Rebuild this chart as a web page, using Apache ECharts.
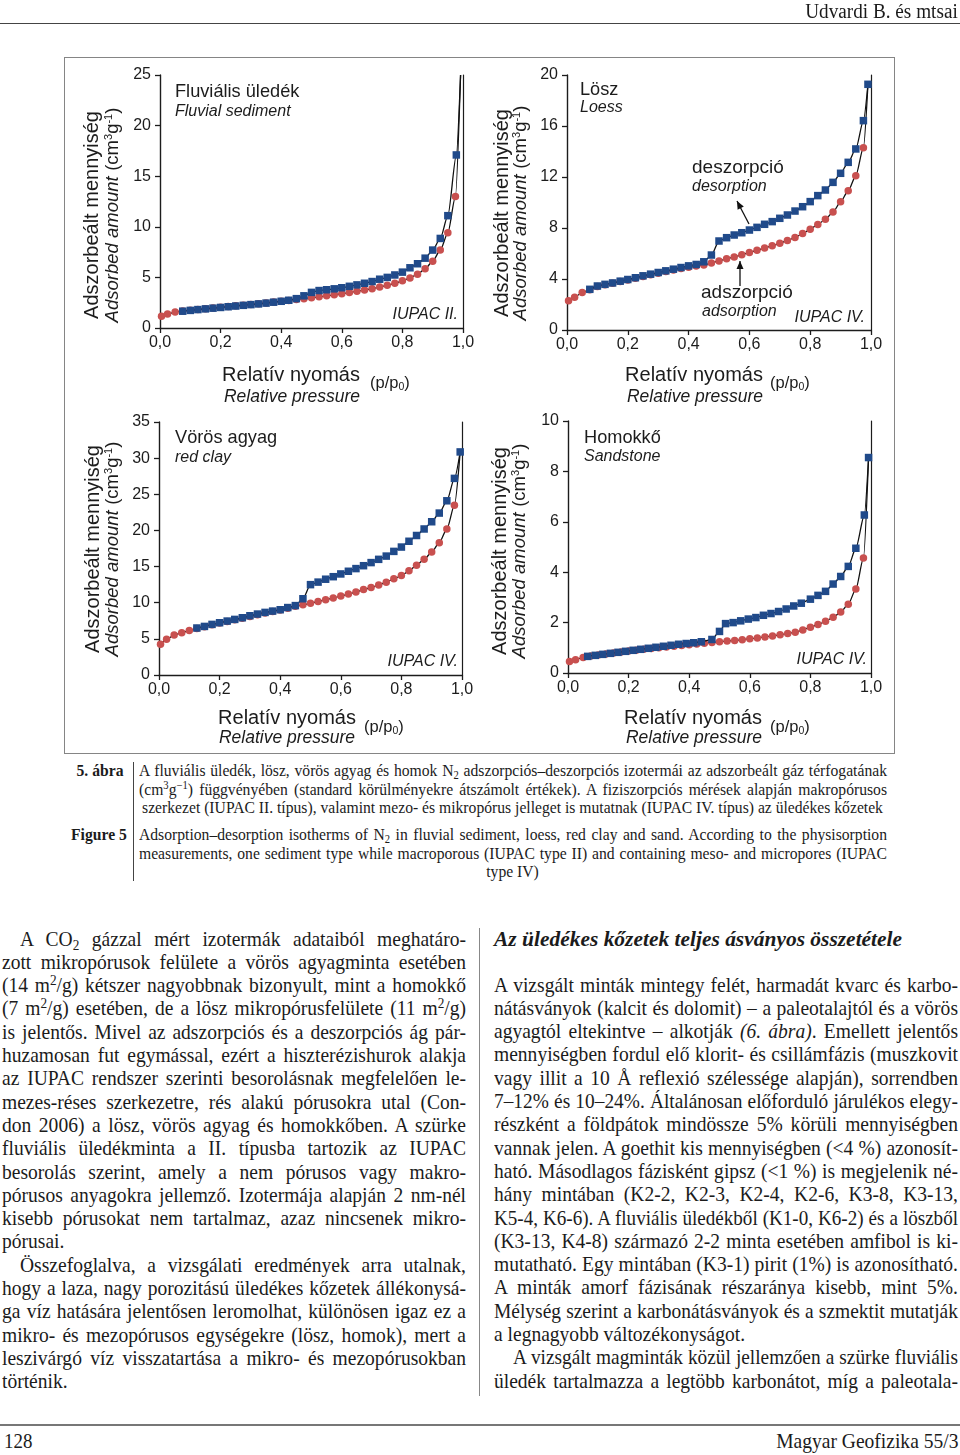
<!DOCTYPE html>
<html><head><meta charset="utf-8">
<script src="https://cdn.jsdelivr.net/npm/echarts/dist/echarts.min.js"></script>
<style>
html,body{margin:0;padding:0;background:#fff;}
#page{position:relative;width:960px;height:1455px;overflow:hidden;font-family:"Liberation Serif","Times New Roman",serif;color:#1b1b1b;}
#chart{position:absolute;left:0;top:0;width:960px;height:760px;}
#figbox{position:absolute;left:64px;top:57px;width:829px;height:695px;border:1.5px solid #858585;}
.ln{position:absolute;transform-origin:0 50%;overflow:visible;}
sub{font-size:0.68em;vertical-align:-0.28em;line-height:0;}
sup{font-size:0.68em;vertical-align:0.5em;line-height:0;}
.rule{position:absolute;background:#555;}
</style></head>
<body><div id="page">
<div id="figbox"></div>
<div id="chart"></div>
</div>
<script>
// ---------------- DATA ----------------
const xTicks = ['0,0','0,2','0,4','0,6','0,8','1,0'];
// Fluvial sediment
const fluvAdsP = [0.005,0.025,0.05,0.075,0.1,0.125,0.15,0.175,0.2,0.225,0.25,0.275,0.3,0.325,0.35,0.375,0.4,0.425,0.45,0.475,0.5,0.525,0.55,0.575,0.6,0.625,0.65,0.675,0.7,0.725,0.75,0.775,0.8,0.825,0.85,0.875,0.9,0.925,0.95,0.975];
const fluvAdsV = [1.15,1.38,1.58,1.68,1.76,1.84,1.91,1.98,2.05,2.12,2.19,2.26,2.33,2.40,2.48,2.56,2.64,2.72,2.81,2.90,2.99,3.08,3.18,3.28,3.39,3.50,3.62,3.75,3.89,4.05,4.22,4.42,4.66,4.95,5.32,5.85,6.6,7.7,9.4,13.0];
const fluvDesP = [0.075,0.1,0.125,0.15,0.175,0.2,0.225,0.25,0.275,0.3,0.325,0.35,0.375,0.4,0.425,0.45,0.475,0.5,0.525,0.55,0.575,0.6,0.625,0.65,0.675,0.7,0.725,0.75,0.775,0.8,0.825,0.85,0.875,0.9,0.925,0.95,0.978];
const fluvDesV = [1.66,1.74,1.82,1.89,1.96,2.03,2.10,2.17,2.24,2.31,2.38,2.46,2.55,2.64,2.74,2.90,3.18,3.52,3.70,3.78,3.87,3.98,4.12,4.26,4.42,4.59,4.82,5.00,5.24,5.52,5.95,6.35,6.90,7.70,8.85,11.1,17.1];
const fluvCurveEnd = [0.992, 25];
// Loess
const loessAdsP = [0.005,0.025,0.05,0.075,0.1,0.125,0.15,0.175,0.2,0.225,0.25,0.275,0.3,0.325,0.35,0.375,0.4,0.425,0.45,0.475,0.5,0.525,0.55,0.575,0.6,0.625,0.65,0.675,0.7,0.725,0.75,0.775,0.8,0.825,0.85,0.875,0.9,0.925,0.95,0.975];
const loessAdsV = [2.3,2.56,2.95,3.15,3.42,3.55,3.66,3.8,3.93,4.06,4.2,4.33,4.46,4.58,4.7,4.82,4.93,5.02,5.1,5.25,5.42,5.58,5.73,5.9,6.07,6.25,6.43,6.6,6.8,7.02,7.25,7.56,7.9,8.28,8.68,9.25,10.05,10.92,12.1,14.3];
const loessDesP = [0.075,0.1,0.125,0.15,0.175,0.2,0.225,0.25,0.275,0.3,0.325,0.35,0.375,0.4,0.425,0.45,0.475,0.5,0.525,0.55,0.575,0.6,0.625,0.65,0.675,0.7,0.725,0.75,0.775,0.8,0.825,0.85,0.875,0.9,0.925,0.95,0.975,0.99];
const loessDesV = [3.19,3.45,3.58,3.69,3.83,3.96,4.1,4.25,4.38,4.51,4.64,4.77,4.9,5.03,5.14,5.35,5.88,6.98,7.24,7.45,7.63,7.84,8.05,8.29,8.5,8.76,9.02,9.33,9.67,10.07,10.54,10.98,11.58,12.29,13.15,14.2,16.42,19.27];
const loessCurveEnd = [0.99, 19.27];
// Red clay
const clayAdsP = [0.005,0.025,0.05,0.075,0.1,0.125,0.15,0.175,0.2,0.225,0.25,0.275,0.3,0.325,0.35,0.375,0.4,0.425,0.45,0.475,0.5,0.525,0.55,0.575,0.6,0.625,0.65,0.675,0.7,0.725,0.75,0.775,0.8,0.825,0.85,0.875,0.9,0.925,0.95,0.975];
const clayAdsV = [4.24,4.93,5.53,5.85,6.17,6.45,6.68,6.95,7.18,7.4,7.63,7.86,8.1,8.35,8.58,8.78,8.98,9.25,9.5,9.72,9.92,10.18,10.42,10.66,10.92,11.2,11.48,11.82,12.1,12.46,12.84,13.3,13.76,14.42,15.2,16.0,17.0,18.3,20.2,23.5];
const clayDesP = [0.125,0.15,0.175,0.2,0.225,0.25,0.275,0.3,0.325,0.35,0.375,0.4,0.425,0.45,0.475,0.5,0.525,0.55,0.575,0.6,0.625,0.65,0.675,0.7,0.725,0.75,0.775,0.8,0.825,0.85,0.875,0.9,0.925,0.95,0.975,0.994];
const clayDesV = [6.5,6.72,7.0,7.23,7.46,7.69,7.92,8.2,8.43,8.66,8.84,9.03,9.33,9.6,10.55,12.5,12.85,13.25,13.6,13.98,14.35,14.72,15.12,15.55,16.0,16.45,17.1,17.7,18.5,19.3,20.2,21.2,22.4,24.1,27.2,30.86];
const clayCurveEnd = [0.994, 30.86];
// Sandstone
const sandAdsP = [0.005,0.025,0.05,0.075,0.1,0.125,0.15,0.175,0.2,0.225,0.25,0.275,0.3,0.325,0.35,0.375,0.4,0.425,0.45,0.475,0.5,0.525,0.55,0.575,0.6,0.625,0.65,0.675,0.7,0.725,0.75,0.775,0.8,0.825,0.85,0.875,0.9,0.925,0.95,0.975];
const sandAdsV = [0.46,0.53,0.62,0.67,0.71,0.75,0.79,0.83,0.87,0.9,0.94,0.97,1.0,1.03,1.06,1.09,1.12,1.15,1.18,1.21,1.24,1.27,1.29,1.32,1.36,1.39,1.43,1.47,1.52,1.57,1.62,1.71,1.82,1.92,2.05,2.21,2.42,2.73,3.33,4.56];
const sandDesP = [0.065,0.09,0.115,0.14,0.165,0.19,0.215,0.24,0.265,0.29,0.315,0.34,0.365,0.39,0.415,0.44,0.475,0.5,0.52,0.545,0.57,0.595,0.62,0.645,0.67,0.695,0.72,0.745,0.77,0.8,0.825,0.85,0.875,0.9,0.925,0.95,0.978,0.992];
const sandDesV = [0.66,0.7,0.74,0.78,0.82,0.86,0.9,0.94,0.98,1.02,1.06,1.1,1.14,1.17,1.2,1.24,1.33,1.65,1.96,2.0,2.07,2.14,2.2,2.29,2.36,2.44,2.54,2.66,2.77,2.93,3.08,3.24,3.53,3.83,4.23,4.95,6.27,8.55];
const sandCurveEnd = [0.992, 8.55];
// Axis ranges
const yMax = [25, 20, 35, 10];
const yStep = [5, 4, 5, 2];
const titlesHu = ['Fluviális üledék','Lösz','Vörös agyag','Homokkő'];
const titlesEn = ['Fluvial sediment','Loess','red clay','Sandstone'];
const iupac = ['IUPAC II.','IUPAC IV.','IUPAC IV.','IUPAC IV.'];

// ---------------- LAYOUT ----------------
const grids = [
  {left:160, top:75, width:303, height:253},
  {left:567, top:75, width:304, height:255},
  {left:159, top:422, width:303, height:253},
  {left:568, top:421, width:303, height:252}
];
const lay = [
  {yt1:[92,215], yt2:[113,215], th:[175,92], te:[175,112], iu:[458,315], xn:[291,375], pp:[370,383], xe:[292,397]},
  {yt1:[502,213], yt2:[521,213], th:[580,90], te:[580,108], iu:[865,318], xn:[694,375], pp:[770,383], xe:[695,397]},
  {yt1:[93,549], yt2:[113,549], th:[175,438], te:[175,458], iu:[458,662], xn:[287,718], pp:[364,727], xe:[287,738]},
  {yt1:[500,551], yt2:[520,551], th:[584,438], te:[584,457], iu:[867,660], xn:[693,718], pp:[770,727], xe:[694,738]}
];
const SANS = '"Liberation Sans", Arial, sans-serif';
const RED = '#c8504f', BLUE = '#204a8a', INK = '#1c1c1c';

const sets = [
  [fluvAdsP, fluvAdsV, fluvDesP, fluvDesV, fluvCurveEnd, true],
  [loessAdsP, loessAdsV, loessDesP, loessDesV, loessCurveEnd, false],
  [clayAdsP, clayAdsV, clayDesP, clayDesV, clayCurveEnd, false],
  [sandAdsP, sandAdsV, sandDesP, sandDesV, sandCurveEnd, false]
];

const chart = echarts.init(document.getElementById('chart'), null, {renderer:'canvas'});
const xAxes = [], yAxes = [], series = [], graphic = [];
grids.forEach((g, i) => {
  xAxes.push({type:'value', gridIndex:i, min:0, max:1, interval:0.2,
    axisLine:{show:true, onZero:false, lineStyle:{color:INK, width:1.4}},
    axisTick:{show:true, length:5, lineStyle:{color:INK, width:1.3}},
    axisLabel:{margin:7, fontFamily:SANS, fontSize:16, color:INK, formatter:(v)=>xTicks[Math.round(v/0.2)]},
    splitLine:{show:false}});
  yAxes.push({type:'value', gridIndex:i, min:0, max:yMax[i], interval:yStep[i],
    axisLine:{show:true, onZero:false, lineStyle:{color:INK, width:1.4}},
    axisTick:{show:true, length:5, lineStyle:{color:INK, width:1.3}},
    axisLabel:{margin:9, fontFamily:SANS, fontSize:16, color:INK},
    splitLine:{show:false}});
  yAxes.push({type:'value', gridIndex:i, position:'right', min:0, max:yMax[i], interval:yStep[i],
    axisLine:{show:true, onZero:false, lineStyle:{color:INK, width:1.2}},
    axisTick:{show:false}, axisLabel:{show:false}, splitLine:{show:false}});
  const [aP, aV, dP, dV, end, bothEnd] = sets[i];
  const ads = aP.map((p, k) => [p, aV[k]]);
  ads.push({value:end, symbol:'none'});
  const des = dP.map((p, k) => [p, dV[k]]);
  if (bothEnd) des.push({value:end, symbol:'none'});
  const common = {type:'line', xAxisIndex:i, yAxisIndex:i*2, smooth:0.25, smoothMonotone:'x',
    lineStyle:{color:'#111', width:1.3}, showAllSymbol:true, animation:false, silent:true};
  series.push(Object.assign({}, common, {name:'adszorpció', data:ads, symbol:'circle', symbolSize:7.5,
    itemStyle:{color:RED}, z:2}));
  series.push(Object.assign({}, common, {name:'deszorpció', data:des, symbol:'rect', symbolSize:7.5,
    itemStyle:{color:BLUE}, z:3}));

  const L = lay[i];
  const txt = (x, y, text, style, extra) => graphic.push(Object.assign({type:'text', x, y, silent:true,
    style:Object.assign({text, fill:INK, font:'20px '+SANS, textAlign:'left', textVerticalAlign:'middle'}, style)}, extra||{}));
  // y axis titles (rotated)
  txt(L.yt1[0], L.yt1[1], 'Adszorbeált mennyiség', {fontSize:20, fontFamily:SANS, textAlign:'center'}, {rotation:Math.PI/2});
  txt(L.yt2[0], L.yt2[1], '{i|Adsorbed amount} {n|(cm}{s|3}{n|g}{s|-1}{n|)}', {textAlign:'center',
    rich:{i:{fontFamily:SANS, fontSize:18.5, fontStyle:'italic', fill:INK}, n:{fontFamily:SANS, fontSize:18.5, fill:INK},
      s:{fontFamily:SANS, fontSize:11, fill:INK, padding:[0,0,9,0]}}}, {rotation:Math.PI/2});
  // panel titles
  txt(L.th[0], L.th[1], titlesHu[i], {fontSize:18.2, fontFamily:SANS});
  txt(L.te[0], L.te[1], titlesEn[i], {fontSize:16, fontFamily:SANS, fontStyle:'italic'});
  txt(L.iu[0], L.iu[1], iupac[i], {fontSize:16, fontFamily:SANS, fontStyle:'italic', textAlign:'right'});
  // x axis titles
  txt(L.xn[0], L.xn[1], 'Relatív nyomás', {fontSize:20, fontFamily:SANS, textAlign:'center'});
  txt(L.pp[0], L.pp[1], '{n|(p/p}{b|0}{n|)}', {rich:{n:{fontFamily:SANS, fontSize:16.5, fill:INK},
    b:{fontFamily:SANS, fontSize:10.5, fill:INK, padding:[8,0,0,0]}}});
  txt(L.xe[0], L.xe[1], 'Relative pressure', {fontSize:17.5, fontFamily:SANS, fontStyle:'italic', textAlign:'center'});
});

// annotations in loess panel
function arrow(x1, y1, x2, y2) {
  graphic.push({type:'line', silent:true, shape:{x1, y1, x2, y2}, style:{stroke:'#111', lineWidth:1.3}});
  const a = Math.atan2(y2 - y1, x2 - x1), L = 8, W = 3.5;
  const bx = x2 - L*Math.cos(a), by = y2 - L*Math.sin(a);
  graphic.push({type:'polygon', silent:true, shape:{points:[[x2, y2],
    [bx + W*Math.sin(a), by - W*Math.cos(a)], [bx - W*Math.sin(a), by + W*Math.cos(a)]]}, style:{fill:'#111'}});
}
graphic.push({type:'text', x:692, y:168, silent:true, style:{text:'deszorpció', font:'19px '+SANS, fill:INK, textVerticalAlign:'middle'}});
graphic.push({type:'text', x:692, y:187, silent:true, style:{text:'desorption', font:'italic 16px '+SANS, fill:INK, textVerticalAlign:'middle'}});
graphic.push({type:'text', x:701, y:293, silent:true, style:{text:'adszorpció', font:'19px '+SANS, fill:INK, textVerticalAlign:'middle'}});
graphic.push({type:'text', x:702, y:312, silent:true, style:{text:'adsorption', font:'italic 16px '+SANS, fill:INK, textVerticalAlign:'middle'}});
arrow(749, 224, 737, 201);
arrow(740, 286, 740, 261);

chart.setOption({animation:false, grid:grids, xAxis:xAxes, yAxis:yAxes, series, graphic});

// ---------------- PAGE TEXT ----------------
const page = document.getElementById('page');
const meas = document.createElement('span');
meas.style.cssText = 'position:absolute;left:-9999px;top:0;white-space:nowrap;';
page.appendChild(meas);
function put(html, x, yc, w, o) {
  o = o || {};
  const size = o.size || 21, lh = o.lh || 23;
  let sc = o.scale || 0.93;
  // measure natural width and shrink if the line would not fit
  meas.style.fontSize = size + 'px';
  meas.style.fontWeight = o.bold ? 'bold' : 'normal';
  meas.style.fontStyle = o.italic ? 'italic' : 'normal';
  meas.innerHTML = html;
  const nat = meas.getBoundingClientRect().width;
  if (nat * sc > w - 1) sc = (w - 2) / nat;
  const d = document.createElement('div');
  d.className = 'ln';
  d.innerHTML = html;
  d.style.fontSize = size + 'px';
  d.style.lineHeight = lh + 'px';
  d.style.height = lh + 'px';
  d.style.top = (yc - lh/2) + 'px';
  d.style.width = (w / sc) + 'px';
  d.style.transform = 'scaleX(' + sc + ')';
  d.style.left = x + 'px';
  if (o.align === 'right') { d.style.textAlign = 'right'; d.style.transformOrigin = '100% 50%'; d.style.left = (x + w - w/sc) + 'px'; }
  else if (o.align === 'center') { d.style.textAlign = 'center'; d.style.transformOrigin = '50% 50%'; d.style.left = (x + w/2 - w/sc/2) + 'px'; }
  else if (o.justify) { d.style.textAlign = 'justify'; d.style.textAlignLast = 'justify'; }
  if (o.bold) d.style.fontWeight = 'bold';
  if (o.italic) d.style.fontStyle = 'italic';
  page.appendChild(d);
}
function rule(x, y, w, h, c) {
  const d = document.createElement('div'); d.className = 'rule';
  Object.assign(d.style, {left:x+'px', top:y+'px', width:w+'px', height:h+'px', background:c||'#555'});
  page.appendChild(d);
}
// header / footer
put('Udvardi B. és mtsai', 700, 11, 258, {size:20, scale:0.96, align:'right'});
rule(0, 23, 960, 1.3, '#444');
rule(0, 1424, 960, 1.6, '#777');
put('128', 4, 1441, 60, {size:21, scale:0.9});
put('Magyar Geofizika 55/3', 700, 1441, 258, {size:21, scale:0.93, align:'right'});

// caption
const capHu = [
 'A fluviális üledék, lösz, vörös agyag és homok N<sub>2</sub> adszorpciós–deszorpciós izotermái az adszorbeált gáz térfogatának',
 '(cm<sup>3</sup>g<sup>−1</sup>) függvényében (standard körülményekre átszámolt értékek). A fiziszorpciós mérések alapján makropórusos',
 'szerkezet (IUPAC II. típus), valamint mezo- és mikropórus jelleget is mutatnak (IUPAC IV. típus) az üledékes kőzetek'];
const capEn = [
 'Adsorption–desorption isotherms of N<sub>2</sub> in fluvial sediment, loess, red clay and sand. According to the physisorption',
 'measurements, one sediment type while macroporous (IUPAC type II) and containing meso- and micropores (IUPAC',
 'type IV)'];
const capY1 = [770, 789, 807], capY2 = [834, 853, 871];
const CO = {size:17, scale:0.92, lh:19};
capHu.forEach((t, k) => put(t, 139, capY1[k], 748, Object.assign({}, CO, k < 2 ? {justify:true} : {align:'center'})));
capEn.forEach((t, k) => put(t, 139, capY2[k], 748, Object.assign({}, CO, k < 2 ? {justify:true} : {align:'center'})));
put('5. ábra', 60, 770, 63, Object.assign({}, CO, {bold:true, align:'right'}));
put('Figure 5', 60, 834, 67, Object.assign({}, CO, {bold:true, align:'right'}));
rule(133, 762, 1, 119, '#444');

// left column
const leftLines = [
 'A CO<sub>2</sub> gázzal mért izotermák adataiból meghatáro-',
 'zott mikropórusok felülete a vörös agyagminta esetében',
 '(14 m<sup>2</sup>/g) kétszer nagyobbnak bizonyult, mint a homokkő',
 '(7 m<sup>2</sup>/g) esetében, de a lösz mikropórusfelülete (11 m<sup>2</sup>/g)',
 'is jelentős. Mivel az adszorpciós és a deszorpciós ág pár-',
 'huzamosan fut egymással, ezért a hiszterézishurok alakja',
 'az IUPAC rendszer szerinti besorolásnak megfelelően le-',
 'mezes-réses szerkezetre, rés alakú pórusokra utal (Con-',
 'don 2006) a lösz, vörös agyag és homokkőben. A szürke',
 'fluviális üledékminta a II. típusba tartozik az IUPAC',
 'besorolás szerint, amely a nem pórusos vagy makro-',
 'pórusos anyagokra jellemző. Izotermája alapján 2 nm-nél',
 'kisebb pórusokat nem tartalmaz, azaz nincsenek mikro-',
 'pórusai.',
 'Összefoglalva, a vizsgálati eredmények arra utalnak,',
 'hogy a laza, nagy porozitású üledékes kőzetek állékonysá-',
 'ga víz hatására jelentősen leromolhat, különösen igaz ez a',
 'mikro- és mezopórusos egységekre (lösz, homok), mert a',
 'leszivárgó víz visszatartása a mikro- és mezopórusokban',
 'történik.'];
const leftIndent = [0, 14], leftRagged = [13, 19];
leftLines.forEach((t, k) => {
  const ind = leftIndent.includes(k) ? 18 : 0;
  put(t, 2 + ind, 939 + k*23.3, 464 - ind, {justify: !leftRagged.includes(k)});
});
// right column
put('Az üledékes kőzetek teljes ásványos összetétele', 494, 938, 464, {bold:true, italic:true, size:22, scale:0.975});
const rightLines = [
 'A vizsgált minták mintegy felét, harmadát kvarc és karbo-',
 'nátásványok (kalcit és dolomit) – a paleotalajtól és a vörös',
 'agyagtól eltekintve – alkotják <i>(6. ábra)</i>. Emellett jelentős',
 'mennyiségben fordul elő klorit- és csillámfázis (muszkovit',
 'vagy illit a 10 Å reflexió szélessége alapján), sorrendben',
 '7–12% és 10–24%. Általánosan előforduló járulékos elegy-',
 'részként a földpátok mindössze 5% körüli mennyiségben',
 'vannak jelen. A goethit kis mennyiségben (&lt;4 %) azonosít-',
 'ható. Másodlagos fázisként gipsz (&lt;1 %) is megjelenik né-',
 'hány mintában (K2-2, K2-3, K2-4, K2-6, K3-8, K3-13,',
 'K5-4, K6-6). A fluviális üledékből (K1-0, K6-2) és a löszből',
 '(K3-13, K4-8) származó 2-2 minta esetében amfibol is ki-',
 'mutatható. Egy mintában (K3-1) pirit (1%) is azonosítható.',
 'A minták amorf fázisának részaránya kisebb, mint 5%.',
 'Mélység szerint a karbonátásványok és a szmektit mutatják',
 'a legnagyobb változékonyságot.',
 'A vizsgált magminták közül jellemzően a szürke fluviális',
 'üledék tartalmazza a legtöbb karbonátot, míg a paleotala-'];
rightLines.forEach((t, k) => {
  const ind = k === 16 ? 19 : 0;
  put(t, 494 + ind, 985 + k*23.3, 464 - ind, {justify: k !== 15});
});
rule(479, 928, 1, 468, '#888');
</script>
</body></html>
